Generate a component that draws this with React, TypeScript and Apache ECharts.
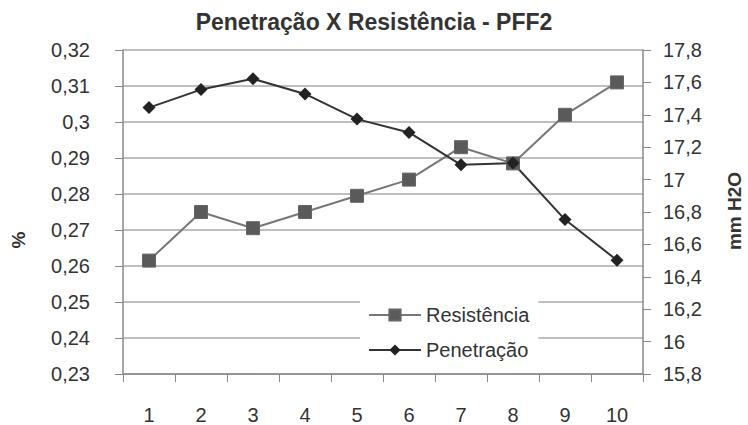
import React, { useEffect, useRef } from "react";
import * as echarts from "echarts";

const categories = ["1", "2", "3", "4", "5", "6", "7", "8", "9", "10"];
const resistencia = [16.5, 16.8, 16.7, 16.8, 16.9, 17.0, 17.2, 17.1, 17.4, 17.6];
const penetracao = [0.304, 0.309, 0.312, 0.3078, 0.3008, 0.2971, 0.2881, 0.2886, 0.2729, 0.2616];
const titleText = "Penetração X Resistência - PFF2";
const leftName = "%";
const rightName = "mm H2O";

const FONT = "'Liberation Sans', Arial, sans-serif";

export default function App() {
  const ref = useRef<HTMLDivElement>(null);
  useEffect(() => {
    if (!ref.current) return;
    const chart = echarts.init(ref.current, null, { renderer: "svg" });
    const fmt = (d: number) => (v: number) => String(parseFloat(v.toFixed(d))).replace(".", ",");
    chart.setOption({
      animation: false,
      backgroundColor: "#fff",
      textStyle: { fontFamily: FONT },
      title: {
        text: titleText,
        left: "center",
        top: 5,
        textStyle: { fontFamily: FONT, fontSize: 23, fontWeight: "bold", color: "#333" },
      },
      grid: { left: 123, right: 105, top: 50, bottom: 50 },
      legend: {
        orient: "vertical",
        left: 360,
        top: 295,
        padding: [10, 9, 12, 8],
        itemGap: 15,
        itemWidth: 52,
        itemHeight: 14,
        backgroundColor: "#fff",
        textStyle: { fontFamily: FONT, fontSize: 20, color: "#333" },
        data: ["Resistência", "Penetração"],
      },
      xAxis: {
        type: "category",
        data: categories,
        boundaryGap: true,
        axisLine: { lineStyle: { color: "#888", width: 1.5 } },
        axisTick: { show: true, length: 8, alignWithLabel: false, lineStyle: { color: "#888" } },
        axisLabel: { fontFamily: FONT, fontSize: 20, color: "#333", margin: 31 },
      },
      yAxis: [
        {
          type: "value",
          min: 0.23,
          max: 0.32,
          interval: 0.01,
          position: "left",
          axisLine: { show: true, lineStyle: { color: "#888", width: 1.5 } },
          axisTick: { show: true, length: 8, lineStyle: { color: "#888" } },
          axisLabel: { fontFamily: FONT, fontSize: 20, color: "#333", margin: 33, formatter: fmt(2) },
          splitLine: { show: true, lineStyle: { color: "#aaa", width: 1.5 } },
        },
        {
          type: "value",
          min: 15.8,
          max: 17.8,
          interval: 0.2,
          position: "right",
          axisLine: { show: true, lineStyle: { color: "#888", width: 1.5 } },
          axisTick: { show: true, length: 8, lineStyle: { color: "#888" } },
          axisLabel: { fontFamily: FONT, fontSize: 20, color: "#333", margin: 20, formatter: fmt(1) },
          splitLine: { show: false },
        },
      ],
      graphic: [
        {
          type: "text",
          x: 18,
          y: 240,
          rotation: Math.PI / 2,
          style: { text: leftName, font: `bold 19px ${FONT}`, fill: "#333", align: "center", verticalAlign: "middle" },
        },
        {
          type: "text",
          x: 734,
          y: 211,
          rotation: Math.PI / 2,
          style: { text: rightName, font: `bold 19px ${FONT}`, fill: "#333", align: "center", verticalAlign: "middle" },
        },
      ],
      series: [
        {
          name: "Resistência",
          type: "line",
          yAxisIndex: 1,
          data: resistencia,
          symbol: "rect",
          symbolSize: 13,
          itemStyle: { color: "#5a5a5a", borderColor: "#666", borderWidth: 1 },
          lineStyle: { color: "#777", width: 2 },
        },
        {
          name: "Penetração",
          type: "line",
          yAxisIndex: 0,
          data: penetracao,
          symbol: "diamond",
          symbolSize: 13,
          itemStyle: { color: "#222" },
          lineStyle: { color: "#333", width: 2 },
        },
      ],
    });
    return () => chart.dispose();
  }, []);
  return <div ref={ref} style={{ position: "fixed", left: 0, top: 0, width: 748, height: 425 }} />;
}
